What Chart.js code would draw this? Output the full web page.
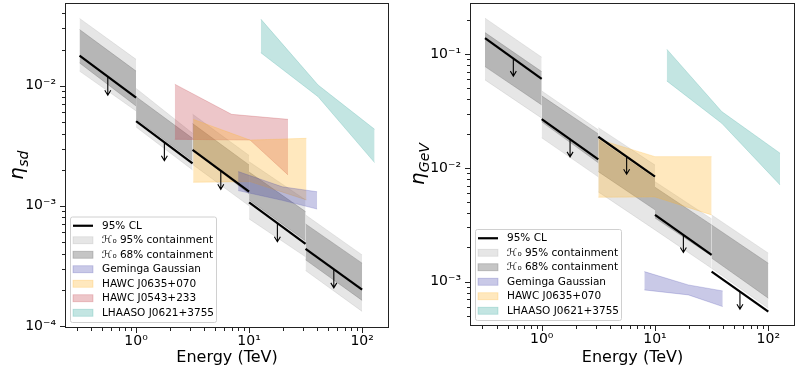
<!DOCTYPE html>
<html>
<head>
<meta charset="utf-8">
<script src="https://cdn.jsdelivr.net/npm/chart.js@4.4.1/dist/chart.umd.min.js"></script>
<style>
  html, body { margin: 0; padding: 0; background: #fff; }
  #wrap { display: flex; width: 800px; height: 369px; }
  canvas { display: block; }
</style>
</head>
<body>
<div id="wrap">
  <canvas id="sdChart" width="400" height="369"></canvas>
  <canvas id="gevChart" width="400" height="369"></canvas>
</div>
<script>
/* energy bins (TeV) and where the down arrows sit */
const binEdges = [0.316, 1, 3.16, 10, 31.6, 100];
const arrowE = [0.562, 1.78, 5.62, 17.8, 56.2];

/* eta_sd panel, each pair = [value at bin start, value at bin end] */
const sdLimit = [[0.0178, 0.00795], [0.00508, 0.00226], [0.00292, 0.00131], [0.00107, 0.000482], [0.000437, 0.0002]];
const sd95Hi = [[0.0364, 0.0166], [0.0095, 0.00402], [0.0058, 0.00263], [0.00233, 0.00112], [0.000839, 0.00039]];
const sd95Lo = [[0.01324, 0.00617], [0.00453, 0.00199], [0.00221, 0.001], [0.000778, 0.000376], [0.000289, 0.000132]];
const sd68Hi = [[0.0294, 0.01324], [0.0081, 0.00365], [0.00484, 0.00219], [0.00191, 0.000895], [0.000706, 0.000333]];
const sd68Lo = [[0.0155, 0.00678], [0.00528, 0.00237], [0.00292, 0.00126], [0.00112, 0.00051], [0.000355, 0.000163]];
const sdArrowTop = [0.0119, 0.00339, 0.00196, 0.000718, 0.000296];

const sdGemingaE = [8.0, 19.7, 40];
const sdGemingaHi = [0.00193, 0.00144, 0.00131];
const sdGemingaLo = [0.00134, 0.00111, 0.00094];
const sdHawc0635E = [3.2, 10.2, 32.2];
const sdHawc0635Hi = [0.00525, 0.00353, 0.00365];
const sdHawc0635Lo = [0.00157, 0.00159, 0.00112];
const sdHawc0543HiE = [2.2, 7.0, 22.1];
const sdHawc0543Hi = [0.0103, 0.00578, 0.00525];
const sdHawc0543LoE = [2.2, 10.2, 22.1];
const sdHawc0543Lo = [0.00358, 0.00353, 0.00181];
const sdLhaasoE = [12.7, 40.8, 129];
const sdLhaasoHi = [0.0359, 0.01014, 0.00434];
const sdLhaasoLo = [0.01883, 0.0081, 0.00229];

/* eta_GeV panel */
const gevLimit = [[0.1383, 0.0607], [0.0268, 0.0119], [0.0188, 0.00838], [0.00386, 0.00172], [0.001225, 0.000545]];
const gev95Hi = [[0.2075, 0.0941], [0.0475, 0.0216], [0.0226, 0.0106], [0.00757, 0.00356], [0.00386, 0.00178]];
const gev95Lo = [[0.0594, 0.0274], [0.0184, 0.00834], [0.00615, 0.00285], [0.00285, 0.00131], [0.00131, 0.000583]];
const gev68Hi = [[0.1549, 0.0703], [0.043, 0.0199], [0.0178, 0.008], [0.00676, 0.00315], [0.00315, 0.00145]];
const gev68Lo = [[0.0778, 0.0358], [0.0254, 0.0111], [0.00927, 0.00428], [0.00363, 0.00168], [0.00161, 0.000715]];
const gevArrowTop = [0.0916, 0.01786, 0.01255, 0.00258, 0.000817];

const gevGemingaE = [8.05, 19.7, 39.6];
const gevGemingaHi = [0.001225, 0.000935, 0.000828];
const gevGemingaLo = [0.000845, 0.000764, 0.000603];
const gevHawc0635E = [3.16, 10, 31.6];
const gevHawc0635Hi = [0.01787, 0.01256, 0.01256];
const gevHawc0635Lo = [0.00552, 0.00555, 0.00386];
const gevLhaasoE = [12.7, 38.8, 127];
const gevLhaasoHi = [0.1107, 0.0313, 0.01346];
const gevLhaasoLo = [0.0582, 0.0247, 0.00708];

const GRAY95 = 'rgba(128,128,128,0.2)';
const GRAY68 = 'rgba(110,110,110,0.4)';
const BLUE = 'rgba(60,60,170,0.28)';
const ORANGE = 'rgba(255,180,40,0.3)';
const RED = 'rgba(190,50,60,0.28)';
const TEAL = 'rgba(40,160,150,0.28)';

Chart.defaults.font.family = 'DejaVu Sans';
Chart.defaults.color = '#000';

const pts = (xs, ys) => xs.map((x, i) => ({ x: x, y: ys[i] }));

function limitLines(lim) {
  return lim.map((v, i) => ({
    label: i === 0 ? '95% CL' : undefined,
    data: pts([binEdges[i], binEdges[i + 1]], v),
    borderColor: '#000', borderWidth: 2.2, fill: false, order: 0
  }));
}

// one band per energy bin: upper edge, then lower edge filled up to it
function binBands(hi, lo, color, label, order) {
  const out = [];
  hi.forEach((h, i) => {
    const xs = [binEdges[i], binEdges[i + 1]];
    out.push({ data: pts(xs, h), borderColor: color, borderWidth: 0.8, fill: false, order: order });
    out.push({ label: i === 0 ? label : undefined, data: pts(xs, lo[i]), borderColor: color,
      borderWidth: 0.8, backgroundColor: color, fill: '-1', order: order });
  });
  return out;
}

function region(xHi, hi, xLo, lo, color, label) {
  return [
    { data: pts(xHi, hi), borderColor: color, borderWidth: 0.8, fill: false, order: 1 },
    { label: label, data: pts(xLo, lo), borderColor: color, borderWidth: 0.8, backgroundColor: color, fill: '-1', order: 1 }
  ];
}

const sup = { '-': '\u207B', '0': '\u2070', '1': '\u00B9', '2': '\u00B2', '3': '\u00B3', '4': '\u2074',
  '5': '\u2075', '6': '\u2076', '7': '\u2077', '8': '\u2078', '9': '\u2079' };

function logTicks(min, max) {
  const out = [];
  for (let e = Math.floor(Math.log10(min)); e <= Math.ceil(Math.log10(max)); e++) {
    for (let k = 1; k <= 9; k++) {
      const v = k * Math.pow(10, e);
      if (v >= min && v <= max) out.push({ value: v, major: k === 1 });
    }
  }
  return out;
}

function tickLabel(value, i, ticks) {
  if (!ticks[i].major) return '';
  const e = String(Math.round(Math.log10(value)));
  return '10' + e.split('').map(c => sup[c]).join('');
}

function noPad(s) {
  s.paddingTop = 0; s.paddingBottom = 0; s.paddingLeft = 0; s.paddingRight = 0;
}

/* frame, tick marks, y title, arrows and the legend box */
const decor = {
  id: 'decor',
  afterDatasetsDraw(chart, args, opts) {
    const { ctx, scales: { x, y } } = chart;
    ctx.save();
    ctx.strokeStyle = '#000';
    ctx.lineWidth = 1.1;
    opts.arrowX.forEach((e, i) => {
      const px = x.getPixelForValue(e);
      const y0 = y.getPixelForValue(opts.arrowTop[i]);
      const y1 = y.getPixelForValue(opts.arrowTop[i] * 0.7);
      ctx.beginPath();
      ctx.moveTo(px, y0);
      ctx.lineTo(px, y1);
      ctx.moveTo(px - 3, y1 - 5);
      ctx.lineTo(px, y1);
      ctx.lineTo(px + 3, y1 - 5);
      ctx.stroke();
    });
    ctx.restore();
  },
  afterDraw(chart, args, opts) {
    const { ctx, chartArea: a, scales: { x, y } } = chart;
    ctx.save();
    ctx.strokeStyle = '#222';
    ctx.lineWidth = 1;
    ctx.strokeRect(a.left + 0.5, a.top + 0.5, a.right - a.left - 1, a.bottom - a.top - 1);
    ctx.beginPath();
    x.ticks.forEach(t => {
      const px = Math.round(x.getPixelForValue(t.value)) + 0.5;
      ctx.moveTo(px, a.bottom);
      ctx.lineTo(px, a.bottom + (t.major ? 5 : 3));
    });
    y.ticks.forEach(t => {
      const py = Math.round(y.getPixelForValue(t.value)) + 0.5;
      ctx.moveTo(a.left, py);
      ctx.lineTo(a.left - (t.major ? 5 : 3), py);
    });
    ctx.stroke();

    // y axis title with subscript
    ctx.translate(opts.titleX, (a.top + a.bottom) / 2);
    ctx.rotate(-Math.PI / 2);
    ctx.font = 'italic 20px DejaVu Sans';
    const w1 = ctx.measureText('\u03B7').width;
    ctx.font = 'italic 14px DejaVu Sans';
    const w2 = ctx.measureText(opts.sub).width;
    const sx = -(w1 + w2) / 2;
    ctx.textBaseline = 'alphabetic';
    ctx.fillStyle = '#000';
    ctx.font = 'italic 20px DejaVu Sans';
    ctx.fillText('\u03B7', sx, 5);
    ctx.font = 'italic 14px DejaVu Sans';
    ctx.fillText(opts.sub, sx + w1 + 0.5, 10);
    ctx.setTransform(1, 0, 0, 1, 0, 0);

    // legend
    const items = chart.data.datasets.filter(d => d.label);
    ctx.font = '10.5px DejaVu Sans';
    const tw = Math.max(...items.map(d => ctx.measureText(d.label).width));
    const rowH = 14.5;
    const bw = 32 + tw + 2;
    const bh = items.length * rowH + 4;
    const bx = a.left + 5;
    const by = a.bottom - 6 - bh;
    ctx.fillStyle = 'rgba(255,255,255,0.85)';
    ctx.strokeStyle = '#d0d0d0';
    ctx.lineWidth = 1;
    ctx.beginPath();
    ctx.roundRect(bx + 0.5, by + 0.5, bw, bh, 2);
    ctx.fill();
    ctx.stroke();
    items.forEach((d, i) => {
      const cy = by + 2 + rowH / 2 + i * rowH;
      if (d.fill === false) {
        ctx.strokeStyle = d.borderColor;
        ctx.lineWidth = 2.2;
        ctx.beginPath();
        ctx.moveTo(bx + 3, cy);
        ctx.lineTo(bx + 23, cy);
        ctx.stroke();
      } else {
        ctx.fillStyle = d.backgroundColor;
        ctx.fillRect(bx + 3, cy - 3.5, 20, 7);
        ctx.strokeStyle = d.borderColor;
        ctx.lineWidth = 0.8;
        ctx.strokeRect(bx + 3, cy - 3.5, 20, 7);
      }
      ctx.fillStyle = '#000';
      ctx.textBaseline = 'middle';
      ctx.fillText(d.label, bx + 32, cy + 0.5);
    });
    ctx.restore();
  }
};

function makeChart(id, datasets, c) {
  return new Chart(document.getElementById(id), {
    type: 'line',
    data: { datasets: datasets },
    options: {
      responsive: false,
      animation: false,
      layout: { padding: c.padding },
      elements: { point: { radius: 0 }, line: { tension: 0 } },
      plugins: {
        legend: { display: false },
        tooltip: { enabled: false },
        decor: { arrowX: arrowE, arrowTop: c.arrowTop, titleX: c.titleX, sub: c.sub }
      },
      scales: {
        x: {
          type: 'logarithmic', min: c.xMin, max: c.xMax,
          afterBuildTicks: s => { s.ticks = logTicks(c.xMin, c.xMax); },
          afterFit: s => { s.height = c.xHeight; noPad(s); },
          grid: { display: false, drawTicks: false },
          border: { display: false },
          ticks: { autoSkip: false, maxRotation: 0, padding: 5, font: { size: 14 }, callback: tickLabel },
          title: { display: true, text: 'Energy (TeV)', font: { size: 16 }, padding: { top: 0, bottom: 2 } }
        },
        y: {
          type: 'logarithmic', min: c.yMin, max: c.yMax,
          afterBuildTicks: s => { s.ticks = logTicks(c.yMin, c.yMax); },
          afterFit: s => { s.width = c.yWidth; noPad(s); },
          grid: { display: false, drawTicks: false },
          border: { display: false },
          ticks: { autoSkip: false, padding: 9, font: { size: 14 }, callback: tickLabel }
        }
      }
    },
    plugins: [decor]
  });
}

const sdSets = [].concat(
  limitLines(sdLimit),
  binBands(sd95Hi, sd95Lo, GRAY95, '\u210B\u2080 95% containment', 3),
  binBands(sd68Hi, sd68Lo, GRAY68, '\u210B\u2080 68% containment', 2),
  region(sdGemingaE, sdGemingaHi, sdGemingaE, sdGemingaLo, BLUE, 'Geminga Gaussian'),
  region(sdHawc0635E, sdHawc0635Hi, sdHawc0635E, sdHawc0635Lo, ORANGE, 'HAWC J0635+070'),
  region(sdHawc0543HiE, sdHawc0543Hi, sdHawc0543LoE, sdHawc0543Lo, RED, 'HAWC J0543+233'),
  region(sdLhaasoE, sdLhaasoHi, sdLhaasoE, sdLhaasoLo, TEAL, 'LHAASO J0621+3755')
);

const gevSets = [].concat(
  limitLines(gevLimit),
  binBands(gev95Hi, gev95Lo, GRAY95, '\u210B\u2080 95% containment', 3),
  binBands(gev68Hi, gev68Lo, GRAY68, '\u210B\u2080 68% containment', 2),
  region(gevGemingaE, gevGemingaHi, gevGemingaE, gevGemingaLo, BLUE, 'Geminga Gaussian'),
  region(gevHawc0635E, gevHawc0635Hi, gevHawc0635E, gevHawc0635Lo, ORANGE, 'HAWC J0635+070'),
  region(gevLhaasoE, gevLhaasoHi, gevLhaasoE, gevLhaasoLo, TEAL, 'LHAASO J0621+3755')
);

makeChart('sdChart', sdSets, {
  padding: { top: 3, right: 11, left: 0, bottom: 0 },
  xMin: 0.235, xMax: 173, yMin: 9.6e-5, yMax: 0.0489,
  xHeight: 41, yWidth: 65, titleX: 18, sub: 'sd', arrowTop: sdArrowTop
});

makeChart('gevChart', gevSets, {
  padding: { top: 3, right: 5, left: 0, bottom: 0 },
  xMin: 0.233, xMax: 172, yMin: 4.07e-4, yMax: 0.282,
  xHeight: 43, yWidth: 70, titleX: 19, sub: 'GeV', arrowTop: gevArrowTop
});
</script>
</body>
</html>
